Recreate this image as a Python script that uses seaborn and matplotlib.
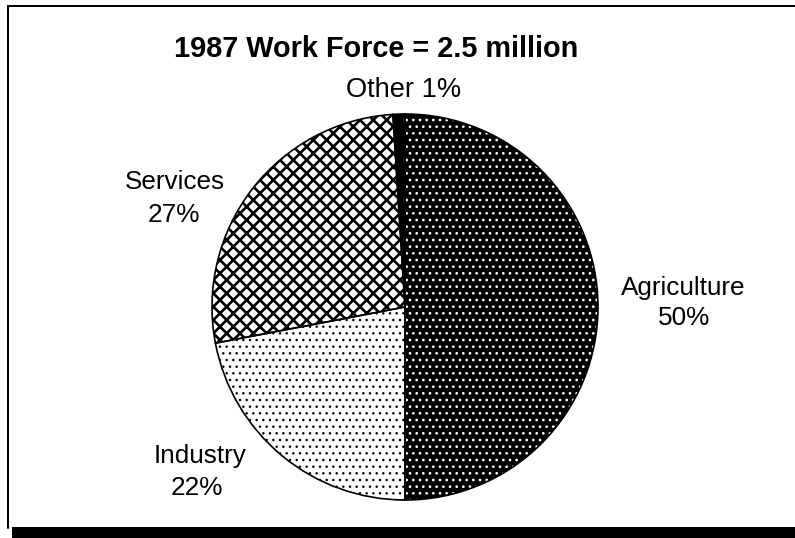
import matplotlib
matplotlib.use('Agg')
import matplotlib.pyplot as plt
import seaborn as sns
from matplotlib.patches import Rectangle
from matplotlib.lines import Line2D

# data
sectors = ['Agriculture', 'Industry', 'Services', 'Other']
shares = [50, 22, 27, 1]
title = '1987 Work Force = 2.5 million'

# face colour, hatch colour, hatch pattern for each sector
fills = {
    'Agriculture': ('black', 'white', '..'),
    'Industry': ('white', 'black', '..'),
    'Services': ('white', 'black', 'xx'),
    'Other': ('black', 'black', ''),
}

sns.set_theme(style='white')
plt.rcParams['font.family'] = ['Liberation Sans', 'DejaVu Sans']
plt.rcParams['text.color'] = 'black'
plt.rcParams['hatch.linewidth'] = 1.2

W, H, DPI = 795, 538, 80
fig = plt.figure(figsize=(W / DPI, H / DPI), dpi=DPI)
fig.patch.set_facecolor('white')

ax = fig.add_axes([212 / W, 1 - 500 / H, 386 / W, 386 / H])

wedges, _ = ax.pie(shares, startangle=90, counterclock=False,
                   wedgeprops=dict(linewidth=0))
for w, s in zip(wedges, sectors):
    fc, hc, hatch = fills[s]
    w.set_facecolor(fc)
    w.set_edgecolor(hc)
    w.set_hatch(hatch)
    if s == 'Services' and hasattr(w, 'set_hatch_linewidth'):
        w.set_hatch_linewidth(2.4)
    elif s == 'Industry' and hasattr(w, 'set_hatch_linewidth'):
        w.set_hatch_linewidth(1.0)

# outline of the wedges
outline, _ = ax.pie(shares, startangle=90, counterclock=False,
                    wedgeprops=dict(fill=False, edgecolor='black', linewidth=1.5))
for w in outline:
    w.set_clip_on(False)

ax.set_xlim(-1, 1)
ax.set_ylim(-1, 1)
ax.set_aspect('equal')
ax.axis('off')


def px(x, y):
    return x / W, 1 - y / H


# title and labels
fig.text(*px(376, 57), title, ha='center', va='baseline',
         fontsize=26, fontweight='bold')
labels = {
    'Other': [(404, 97)],
    'Services': [(175, 189), (174, 222)],
    'Agriculture': [(683, 295), (684, 325)],
    'Industry': [(200, 463), (197, 495)],
}
for s, v in zip(sectors, shares):
    pos = labels[s]
    if len(pos) == 1:
        fig.text(*px(*pos[0]), f'{s} {v}%', ha='center', va='baseline', fontsize=24.5)
    else:
        fig.text(*px(*pos[0]), s, ha='center', va='baseline', fontsize=23.5)
        fig.text(*px(*pos[1]), f'{v}%', ha='center', va='baseline', fontsize=23.5)

# frame: thin top and left lines, thick bar at the bottom
fig.add_artist(Line2D([8 / W, 8 / W], [1 - 6 / H, 1 - 528 / H], color='black', lw=1.8))
fig.add_artist(Line2D([8 / W, 1], [1 - 6 / H, 1 - 6 / H], color='black', lw=1.8))
fig.add_artist(Rectangle((12 / W, 0), 1, 11 / H, transform=fig.transFigure,
                         facecolor='black', edgecolor='none'))

fig.savefig('out.png', dpi=DPI, facecolor='white')
